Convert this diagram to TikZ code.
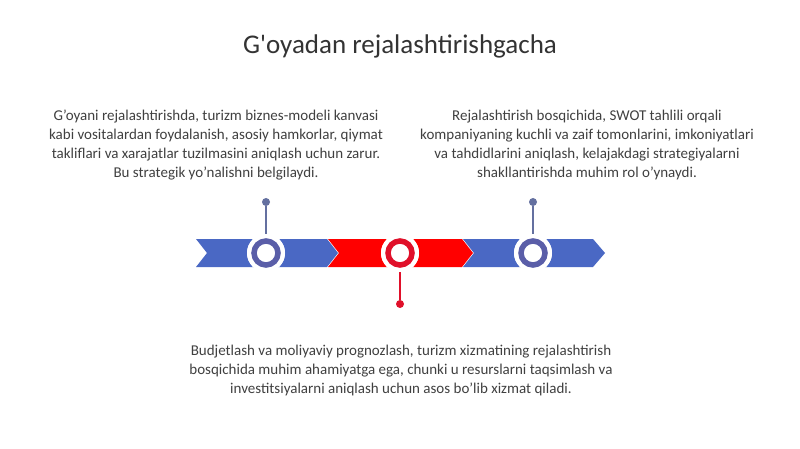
\documentclass[tikz,border=0pt]{standalone}
\usepackage{fontspec}
\setmainfont{Carlito}
\definecolor{barblue}{HTML}{4A68C4}
\definecolor{ringblue}{HTML}{5A5EA8}
\definecolor{pinblue}{HTML}{6470A0}
\definecolor{barred}{HTML}{FF0000}
\definecolor{ringred}{HTML}{E0102A}
\definecolor{txt}{HTML}{404040}
\begin{document}
\begin{tikzpicture}[x=1pt,y=-1pt,
  body/.style={text=txt,font=\fontsize{15}{19}\selectfont,align=center,inner sep=0pt},
  halo/.style={circle,fill=white,minimum size=38pt,inner sep=0pt},
  ringb/.style={circle,draw=ringblue,line width=5.5pt,fill=white,minimum size=24pt,inner sep=0pt},
  ringr/.style={circle,draw=ringred,line width=5.5pt,fill=white,minimum size=24pt,inner sep=0pt},
  dotb/.style={circle,fill=pinblue,minimum size=8pt,inner sep=0pt},
  dotr/.style={circle,fill=ringred,minimum size=8pt,inner sep=0pt}]
\useasboundingbox (0,0) rectangle (800,449);
\fill[white] (0,0) rectangle (800,449);
\node[text=black!80,font=\fontsize{27}{32}\selectfont\addfontfeatures{Ligatures=TeXOff}] (title) at (400,46) {G'oyadan rejalashtirishgacha};
% chevrons
\fill[barblue] (196,239) -- (327,239) -- (338,253) -- (327,267) -- (196,267) -- (207,253) -- cycle;
\fill[barred] (328,239) -- (462,239) -- (473,253) -- (462,267) -- (328,267) -- (339,253) -- cycle;
\fill[barblue] (463,239) -- (593,239) -- (605,253) -- (593,267) -- (463,267) -- (474,253) -- cycle;
% pins
\node[dotb] (d1) at (266,202) {};
\node[dotb] (d3) at (533,202) {};
\node[dotr] (d2) at (400,304) {};
\node[halo] (h1) at (266,253) {};
\node[halo] (h2) at (400,253) {};
\node[halo] (h3) at (533,253) {};
\draw[pinblue,line width=1.5pt] (d1) -- (h1.center);
\draw[pinblue,line width=1.5pt] (d3) -- (h3.center);
\draw[ringred,line width=1.5pt] (d2) -- (h2.center);
\node[halo] at (266,253) {};
\node[halo] at (400,253) {};
\node[halo] at (533,253) {};
\node[ringb] (c1) at (266,253) {};
\node[ringr] (c2) at (400,253) {};
\node[ringb] (c3) at (533,253) {};
% texts
\node[body] (t1) at (216,145) {G'oyani rejalashtirishda, turizm biznes-modeli kanvasi\\kabi vositalardan foydalanish, asosiy hamkorlar, qiymat\\takliflari va xarajatlar tuzilmasini aniqlash uchun zarur.\\Bu strategik yo'nalishni belgilaydi.};
\node[body] (t2) at (587,145) {Rejalashtirish bosqichida, SWOT tahlili orqali\\kompaniyaning kuchli va zaif tomonlarini, imkoniyatlari\\va tahdidlarini aniqlash, kelajakdagi strategiyalarni\\shakllantirishda muhim rol o'ynaydi.};
\node[body] (t3) at (401,370) {Budjetlash va moliyaviy prognozlash, turizm xizmatining rejalashtirish\\bosqichida muhim ahamiyatga ega, chunki u resurslarni taqsimlash va\\investitsiyalarni aniqlash uchun asos bo'lib xizmat qiladi.};
\end{tikzpicture}
\end{document}
